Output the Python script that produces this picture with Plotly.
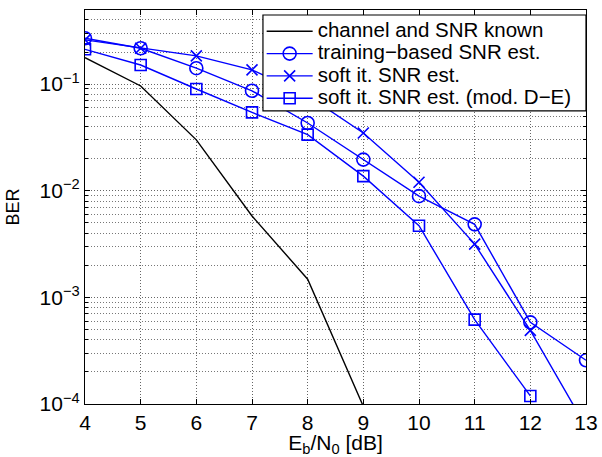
import plotly.graph_objects as go

ebn0 = [4, 5, 6, 7, 8, 9, 10, 11, 12, 13]
ber_known = [0.177, 0.096, 0.030, 0.0058, 0.00148, 0.000095]
ber_training = [0.269, 0.217, 0.141, 0.0866, 0.0432, 0.0196, 0.0089, 0.00484, 0.000583, 0.000257]
ber_soft = [0.26, 0.217, 0.184, 0.136, 0.078, 0.0348, 0.012, 0.00316, 0.00049, 0.000061]
ber_soft_mod = [0.212, 0.151, 0.090, 0.0543, 0.0336, 0.0137, 0.0047, 0.000618, 0.000119]

names = ["channel and SNR known", "training\u2212based SNR est.",
         "soft it. SNR est.", "soft it. SNR est. (mod. D\u2212E)"]
y_tickvals = [1e-4, 1e-3, 1e-2, 1e-1]
y_ticktext = ["10<sup>\u22124</sup>", "10<sup>\u22123</sup>", "10<sup>\u22122</sup>", "10<sup>\u22121</sup>"]
y_minor = [k * 10.0 ** e for e in range(-4, 0) for k in range(2, 10)]

blue = "rgb(0,0,255)"


def lg(name):
    return '<span style="font-size:20.5px">' + name + '</span>'


fig = go.Figure()
fig.add_trace(go.Scatter(x=ebn0[:len(ber_known)], y=ber_known, mode="lines", name=lg(names[0]),
                         line=dict(color="black", width=1.4)))
fig.add_trace(go.Scatter(x=ebn0[:len(ber_training)], y=ber_training, mode="lines+markers", name=lg(names[1]),
                         line=dict(color=blue, width=1.4),
                         marker=dict(symbol="circle-open", size=13, color=blue, line=dict(width=1.6))))
fig.add_trace(go.Scatter(x=ebn0[:len(ber_soft)], y=ber_soft, mode="lines+markers", name=lg(names[2]),
                         line=dict(color=blue, width=1.4),
                         marker=dict(symbol="x-thin-open", size=11, color=blue, line=dict(width=1.6, color=blue))))
fig.add_trace(go.Scatter(x=ebn0[:len(ber_soft_mod)], y=ber_soft_mod, mode="lines+markers", name=lg(names[3]),
                         line=dict(color=blue, width=1.4),
                         marker=dict(symbol="square-open", size=11, color=blue, line=dict(width=1.6))))

font = dict(family="Liberation Sans, Arial, sans-serif", size=21, color="black")
grid_dash = "1px,2px"
fig.update_layout(
    width=602, height=457,
    margin=dict(l=85, r=16, t=10, b=53),
    paper_bgcolor="white", plot_bgcolor="white",
    font=font,
    showlegend=True,
    legend=dict(x=0.3526, y=0.987, xanchor="left", yanchor="top",
                bgcolor="rgba(0,0,0,0)", borderwidth=0,
                font=dict(family="Liberation Sans, Arial, sans-serif", size=14.85, color="black"),
                tracegroupgap=0, itemwidth=46),
    shapes=[dict(type="rect", xref="paper", yref="paper", x0=0.3552, x1=1.0, y0=0.7438, y1=0.9873,
                 fillcolor="white", line=dict(color="black", width=1.2), layer="above")],
)
fig.update_xaxes(
    range=[4, 13], tickvals=ebn0, ticks="inside", ticklen=5, tickcolor="black",
    ticklabelstandoff=0, automargin=False,
    showline=True, linecolor="black", linewidth=1.2, mirror="ticks",
    showgrid=True, gridcolor="#666", griddash=grid_dash, gridwidth=1, zeroline=False,
    title=dict(text="E<sub>b</sub>/N<sub>0</sub> [dB]", font=dict(size=21)),
)
fig.update_yaxes(
    type="log", range=[-4, -0.305], tickvals=y_tickvals, ticktext=y_ticktext,
    ticks="inside", ticklen=5, tickcolor="black", automargin=False,
    showline=True, linecolor="black", linewidth=1.2, mirror="ticks",
    showgrid=True, gridcolor="#666", griddash=grid_dash, gridwidth=1, zeroline=False,
    minor=dict(tickvals=y_minor, ticks="inside", ticklen=3, tickcolor="black",
               showgrid=True, gridcolor="#777", griddash=grid_dash, gridwidth=1),
    title=dict(text="BER", font=dict(size=18)),
)
fig.write_html("out.html")
